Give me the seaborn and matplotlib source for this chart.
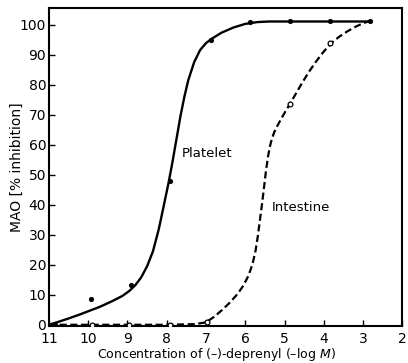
import matplotlib
matplotlib.use("Agg")
import matplotlib.pyplot as plt
from matplotlib import font_manager
import seaborn as sns
import pandas as pd

# Traced dose-response curves: concentration (-log M) vs. MAO inhibition (%)
platelet_curve_x = [11.0, 10.8, 10.5, 10.2, 10.0, 9.7, 9.4, 9.13, 8.95, 8.8, 8.65,
                    8.5, 8.35, 8.2, 8.07, 7.95, 7.85, 7.75, 7.65, 7.55, 7.45, 7.3,
                    7.15, 7.0, 6.85, 6.6, 6.3, 6.0, 5.7, 5.4, 4.86, 3.84, 2.83]
platelet_curve_y = [0.0, 0.8, 2.1, 3.5, 4.5, 6.0, 7.8, 9.6, 11.3, 13.2, 15.8,
                    19.5, 24.5, 32.0, 40.0, 47.5, 54.5, 62.0, 69.5, 76.0, 81.5, 87.5,
                    91.5, 93.8, 95.3, 97.3, 99.0, 100.2, 100.8, 101.0, 101.0, 101.0, 101.0]

intestine_curve_x = [11.0, 10.0, 9.0, 8.0, 7.3, 7.0, 6.8, 6.6, 6.4, 6.2, 6.05,
                     5.92, 5.82, 5.74, 5.68, 5.62, 5.57, 5.52, 5.47, 5.42, 5.37,
                     5.32, 5.26, 5.18, 5.08, 4.97, 4.86, 4.7, 4.55, 4.39, 4.2, 4.0,
                     3.81, 3.6, 3.4, 3.2, 3.0, 2.83]
intestine_curve_y = [0.0, 0.0, 0.0, 0.0, 0.2, 0.8, 2.6, 4.8, 7.3, 10.2, 13.0,
                     16.3, 20.0, 24.5, 29.5, 35.5, 40.5, 46.0, 51.5, 56.0, 59.5,
                     62.0, 64.2, 66.3, 68.7, 71.2, 73.6, 77.2, 80.6, 84.0, 87.6, 91.0,
                     93.8, 96.0, 97.7, 99.2, 100.4, 101.2]

# Measured points
platelet_pts_x = [10.85, 9.92, 8.91, 7.92, 6.87, 5.87, 4.86, 3.84, 2.83]
platelet_pts_y = [0.3, 8.7, 13.1, 48.0, 95.0, 100.8, 101.0, 101.0, 101.0]

intestine_pts_x = [9.9, 8.95, 7.92, 6.98, 4.86, 3.84]
intestine_pts_y = [0.0, 0.0, 0.0, 1.0, 73.5, 93.8]

x_ticks = [11, 10, 9, 8, 7, 6, 5, 4, 3, 2]
y_ticks = [0, 10, 20, 30, 40, 50, 60, 70, 80, 90, 100]

sns.set_theme(style="ticks")
available = {f.name for f in font_manager.fontManager.ttflist}
family = next((f for f in ["Liberation Sans Narrow", "DejaVu Sans Condensed", "DejaVu Sans"]
               if f in available), "DejaVu Sans")
plt.rcParams["font.family"] = [family, "DejaVu Sans"]

fig = plt.figure(figsize=(4.08, 3.63), dpi=100)
ax = fig.add_axes([0.120, 0.102, 0.866, 0.876])

platelet = pd.DataFrame({"x": platelet_curve_x, "y": platelet_curve_y})
intestine = pd.DataFrame({"x": intestine_curve_x, "y": intestine_curve_y})

sns.lineplot(data=platelet, x="x", y="y", sort=False, color="black", lw=1.7, ax=ax)
sns.lineplot(data=intestine, x="x", y="y", sort=False, color="black", lw=1.6,
             dashes=False, ax=ax, linestyle=(0, (3.2, 1.6)))

sns.scatterplot(x=platelet_pts_x, y=platelet_pts_y, color="black", s=14,
                edgecolor="black", linewidth=0, ax=ax, zorder=5)
sns.scatterplot(x=intestine_pts_x, y=intestine_pts_y, facecolor="white", s=12,
                edgecolor="black", linewidth=0.9, ax=ax, zorder=6)

ax.text(7.62, 57, "Platelet", fontsize=9.5, va="center", ha="left", color="black")
ax.text(5.33, 39, "Intestine", fontsize=9.5, va="center", ha="left", color="black")

ax.set_xlim(11.0, 2.0)
ax.set_ylim(-0.4, 105.5)
ax.set_xticks(x_ticks)
ax.set_xticklabels([str(t) for t in x_ticks])
ax.set_yticks(y_ticks)
ax.set_yticklabels([str(t) for t in y_ticks])
ax.tick_params(axis="both", direction="in", length=4, width=1, colors="black",
               labelsize=10, pad=2)
ax.tick_params(axis="x", pad=4)

for side in ["left", "right", "top", "bottom"]:
    ax.spines[side].set_visible(True)
    ax.spines[side].set_linewidth(1.5)
    ax.spines[side].set_color("black")

ax.set_xlabel("Concentration of (\u2013)-deprenyl (\u2013log $\\mathit{M}$)", fontsize=9,
              color="black")
ax.xaxis.set_label_coords(0.475, -0.062)
ax.set_ylabel("MAO [% inhibition]", fontsize=10, color="black")
ax.yaxis.set_label_coords(-0.072, 0.5)

fig.savefig("out.png", dpi=100, facecolor="white")
